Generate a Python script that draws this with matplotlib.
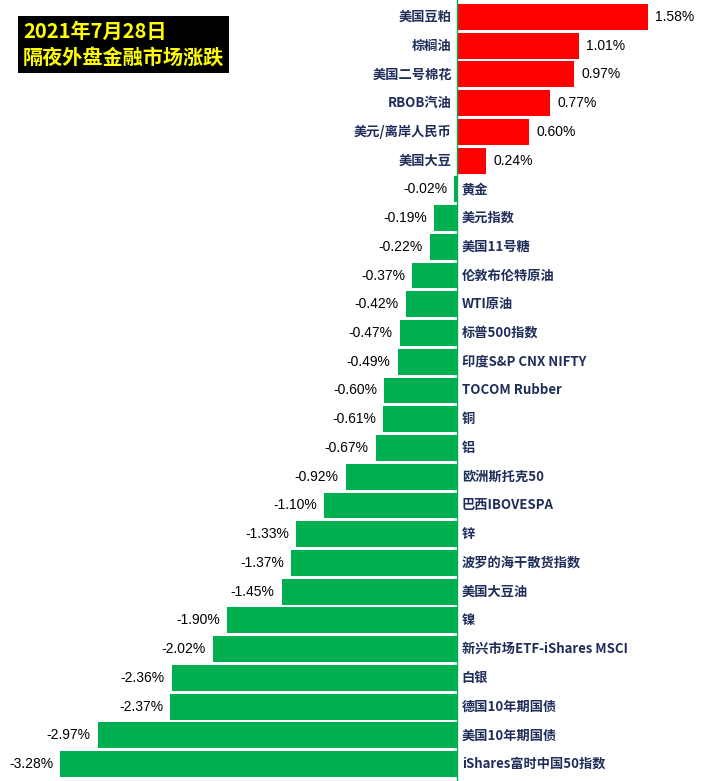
import matplotlib.pyplot as plt

names = ['美国豆粕', '棕榈油', '美国二号棉花', 'RBOB汽油', '美元/离岸人民币', '美国大豆',
         '黄金', '美元指数', '美国11号糖', '伦敦布伦特原油', 'WTI原油', '标普500指数',
         '印度S&P CNX NIFTY', 'TOCOM Rubber', '铜', '铝', '欧洲斯托克50', '巴西IBOVESPA',
         '锌', '波罗的海干散货指数', '美国大豆油', '镍', '新兴市场ETF-iShares MSCI',
         '白银', '德国10年期国债', '美国10年期国债', 'iShares富时中国50指数']
changes = [1.58, 1.01, 0.97, 0.77, 0.60, 0.24,
           -0.02, -0.19, -0.22, -0.37, -0.42, -0.47,
           -0.49, -0.60, -0.61, -0.67, -0.92, -1.10,
           -1.33, -1.37, -1.45, -1.90, -2.02,
           -2.36, -2.37, -2.97, -3.28]

plt.rcParams['font.family'] = ['Noto Sans CJK SC']
fig = plt.figure(figsize=(7.01, 7.81), dpi=100)
ax = fig.add_axes([0, 0, 1, 1])
ypos = list(range(len(names)))
colors = ['#FF0000' if v > 0 else '#00B050' for v in changes]
ax.barh(ypos, changes, height=0.9, color=colors)
ax.axvline(0, color='#00B050', lw=1)

navy = '#1F2D5A'
for y, name, v in zip(ypos, names, changes):
    if v > 0:
        ax.text(-0.04, y, name, ha='right', va='center', fontsize=9.5, color=navy, fontweight='bold')
        ax.text(v + 0.06, y, '%.2f%%' % v, ha='left', va='center', fontsize=10, color='black',
                family='Liberation Sans')
    else:
        ax.text(0.04, y, name, ha='left', va='center', fontsize=9.5, color=navy, fontweight='bold')
        ax.text(v - 0.06, y, '%.2f%%' % v, ha='right', va='center', fontsize=10, color='black',
                family='Liberation Sans')

ax.set_xlim(-3.78, 2.02)
ax.set_ylim(26.59, -0.59)
ax.axis('off')

fig.text(0.033, 0.913, '2021年7月28日\n隔夜外盘金融市场涨跌', ha='left', va='bottom', fontsize=14.5,
         color='#FFFF00', fontweight='bold', linespacing=1.3,
         bbox=dict(facecolor='black', edgecolor='none', boxstyle='square,pad=0.25'))

fig.savefig('out.png', dpi=100)
